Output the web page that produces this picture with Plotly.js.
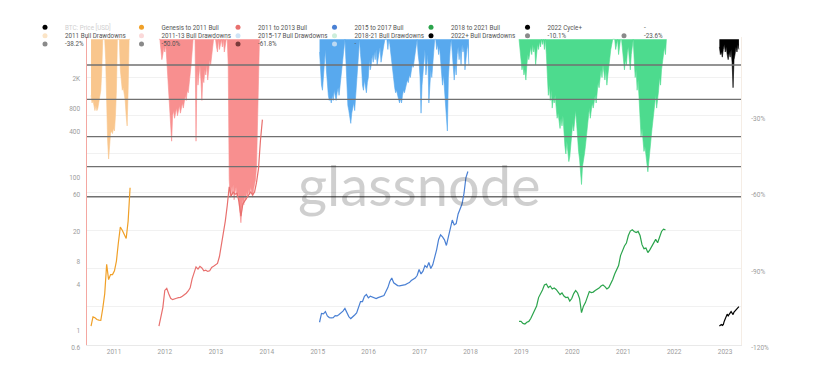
<!DOCTYPE html>
<html><head><meta charset="utf-8">
<script src="https://cdn.plot.ly/plotly-3.0.1.min.js"></script>
<style>html,body{margin:0;padding:0;background:#fff;}#chart{width:832px;height:386px;}</style>
</head><body><div id="chart"></div>
<script>
// ---------- data (prices are normalised to each cycle low; drawdowns in %) ----------
const xRange = ['2010-06-21', '2023-04-25'];
const lineSpan = ['2010-01-01', '2024-01-01'];

// Genesis to 2011 Bull (14-day steps)
const genesisStart = '2010-07-20';
const genesisPrice = [1.06,1.40,1.36,1.29,1.27,1.26,1.8,2.8,6.8,4.3,5.0,5.0,5.6,7.5,13.0,20.8,19.0,16.5,14.8,25,68];
// 2011 to 2013 Bull (14-day steps)
const c2013Start = '2011-11-19';
const c2013Price = [1.06,1.36,1.85,3.1,3.3,2.8,2.45,2.35,2.38,2.45,2.5,2.52,2.6,2.7,2.85,3.05,3.35,4.4,5.2,6.3,5.9,6.4,6.1,5.6,5.7,5.5,5.6,6.2,6.4,6.7,7.0,8.6,12,17.5,25,40,70,53,60,56,58,45,29,42,46,50,55,60,55,60,80,120,280,530];
// 2015 to 2017 Bull (14-day steps)
const c2017Start = '2015-01-14';
const c2017Price = [1.19,1.55,1.53,1.64,1.44,1.37,1.36,1.37,1.45,1.44,1.50,1.57,1.66,1.80,1.55,1.41,1.33,1.39,1.48,1.57,1.84,2.22,2.22,2.60,2.74,2.48,2.60,2.54,2.50,2.43,2.50,2.56,2.62,2.66,3.00,3.38,4.05,4.50,3.90,3.70,3.59,3.55,3.59,3.65,3.70,3.82,3.93,4.18,4.31,4.50,4.86,5.82,5.09,5.53,6.56,6.18,7.2,6.0,6.7,8.2,10.6,14.4,16.5,15.5,14.2,12.0,15.7,20,25.8,22.3,23.2,31,36,41.8,57.3,92.7,111];
// 2018 to 2021 Bull (14-day steps)
const c2021Start = '2018-12-15';
const c2021Price = [1.22,1.22,1.15,1.13,1.19,1.22,1.33,1.50,1.69,1.94,2.50,2.78,3.14,3.65,3.76,3.38,3.54,3.24,3.33,3.19,2.95,2.74,2.87,2.62,2.50,2.53,2.25,2.43,2.82,3.09,2.87,2.43,1.59,1.93,2.15,2.58,3.00,2.91,2.95,3.09,3.19,3.33,3.54,3.65,3.48,3.24,3.38,3.76,4.31,5.09,5.90,6.56,8.86,10.5,11.8,12.9,16.2,18.5,19.2,18.3,17.7,18.3,16.2,12.3,10.9,11.1,9.7,10.5,11.8,13.3,14.4,13.0,15.1,18.3,19.6,19.2];
// 2022 Cycle+ (7-day steps)
const c2022Start = '2022-11-21';
const c2022Price = [1.06,1.09,1.11,1.08,1.11,1.23,1.33,1.43,1.52,1.44,1.50,1.58,1.64,1.57,1.50,1.62,1.67,1.75,1.80,1.85,1.91];

// Drawdowns (7-day steps, %)
const genesisDD = [-22,-25,-24,-27,-28,-26,-28,-27,-25,-23,-20,-12,0,0,0,-8,-31,-40,-47,-42,-37,-36,-37,-35,-36,-30,-20,0,0,0,-12,-18,-20,-19,-22,-24,-30,-34,-20,0,0];
const c2013DD = [0,0,-4,-8,-6,-3,-5,-2,-8,-15,-20,-26,-32,-40,-30,-28,-31,-29,-27,-30,-28,-26,-29,-27,-25,-27,-24,-22,-24,-20,-21,-18,-14,-10,-5,0,0,0,-40,-12,-18,-14,-10,-16,-24,-15,-17,-12,-14,-10,-16,-12,-8,-10,-6,-4,0,0,0,-3,-5,0,-4,-2,0,-3,0,-5,-2,0,0,-10,-55,-62,-58,-61,-57,-63,-60,-58,-62,-60,-64,-68,-72,-66,-63,-65,-61,-63,-60,-62,-59,-61,-58,-60,-62,-59,-57,-55,-50,-35,-15,0,0,0];
const c2017DD = [-5,-12,-18,-20,-14,-10,-4,-12,-20,-22,-24,-23,-25,-22,-24,-20,-22,-24,-21,-19,-22,-18,-16,-10,-6,-3,0,-8,-20,-26,-28,-30,-33,-29,-27,-25,-28,-22,-18,-12,-3,0,-6,-10,-18,-20,-16,-19,-21,-17,-15,-8,-12,-10,-6,-9,-5,-8,-4,-10,-7,-5,-3,-9,-6,-4,-2,0,0,0,-4,0,-2,-6,-10,-14,-17,-19,-21,-20,-22,-24,-25,-23,-25,-22,-20,-21,-19,-18,-16,-17,-14,-15,-12,-10,-11,-8,-5,-3,0,-6,-9,-15,-29,-18,-14,-8,-4,-14,-10,-6,-25,-18,-12,-15,-9,-5,0,0,-4,-2,-6,-3,-8,-12,-18,-14,-20,-24,-30,-36,-15,-8,-3,0,-5,-12,-16,-10,-14,-6,-3,-8,-4,-10,-2,-5,-3,-12,-6,-4,-2,-10];
const c2021DD = [0,-4,-8,-12,-10,-14,-12,-16,-10,-6,-8,-5,-3,-6,-2,-5,-3,-10,-6,-2,-4,-1,-3,0,-2,0,-4,0,-6,-15,-22,-18,-24,-20,-27,-23,-25,-22,-28,-31,-29,-33,-35,-31,-34,-30,-38,-42,-45,-40,-44,-48,-46,-42,-37,-33,-36,-30,-28,-33,-40,-44,-47,-52,-57,-50,-48,-45,-42,-38,-34,-30,-27,-31,-28,-25,-27,-24,-22,-25,-20,-17,-19,-14,-12,-15,-10,-13,-16,-12,-18,-14,-10,-7,-4,-2,0,0,0,-4,-2,0,-6,-3,0,0,-5,-9,-12,-8,-10,-5,-3,-8,-12,-6,-3,0,-8,-15,-12,-20,-16,-25,-32,-38,-35,-40,-44,-42,-46,-50,-52,-48,-45,-40,-36,-33,-30,-25,-22,-27,-24,-20,-15,-18,-12,-8,-5,-3,-6,0];
const c2022DD = [-3,-6,-5,-7,-4,-2,-5,-3,-6,-8,-5,-7,-4,-9,-19,-8,-6,-3,-5,-2,-4];

// Fibonacci drawdown levels
const levels = [-10.1, -23.6, -38.2, -50.0, -61.8];
const levelNames = ['-10.1%', '-23.6%', '-38.2%', '-50.0%', '-61.8%'];

// Axis ticks
const priceTicks = [0.6, 1, 4, 8, 20, 60, 100, 400, 800, 2000];
const priceTickText = ['0.6', '1', '4', '8', '20', '60', '100', '400', '800', '2K'];
const ddTicks = [-15, -30, -45, -60, -75, -90, -105, -120];
const ddTickText = ['', '-30%', '', '-60%', '', '-90%', '', '-120%'];

// ---------- build traces ----------
const DAY = 86400000;
const FONT = 'Roboto, "Open Sans", sans-serif';

function ddTrace(start, vals, fill) {
  return {type: 'scatter', mode: 'lines', x0: start, dx: 7 * DAY, y: vals, yaxis: 'y',
    fill: 'tozeroy', fillcolor: fill, line: {color: fill, width: 0.6}, showlegend: false, hoverinfo: 'skip'};
}
function priceTrace(start, step, vals, color) {
  return {type: 'scatter', mode: 'lines', x0: start, dx: step * DAY, y: vals, yaxis: 'y2',
    line: {color: color, width: 1.2}, showlegend: false, hoverinfo: 'skip'};
}
function proxy(name, color, legend) {
  return {type: 'scatter', mode: 'markers', x: [null], y: [null], yaxis: 'y', name: name,
    marker: {color: color, size: 5}, legend: legend, showlegend: true, hoverinfo: 'skip'};
}

const traces = [
  ddTrace(genesisStart, genesisDD, '#f9c68d'),
  ddTrace(c2013Start, c2013DD, '#f88f8f'),
  ddTrace(c2017Start, c2017DD, '#58a9ee'),
  ddTrace(c2021Start, c2021DD, '#4ddb8e'),
  ddTrace(c2022Start, c2022DD, '#000000')
];
levels.forEach(function (lv) {
  traces.push({type: 'scatter', mode: 'lines', x: lineSpan, y: [lv, lv], yaxis: 'y',
    line: {color: '#707070', width: 1.3}, showlegend: false, hoverinfo: 'skip'});
});
traces.push(
  priceTrace(genesisStart, 14, genesisPrice, '#f0a028'),
  priceTrace(c2013Start, 14, c2013Price, '#e8706e'),
  priceTrace(c2017Start, 14, c2017Price, '#4a80d4'),
  priceTrace(c2021Start, 14, c2021Price, '#2ba44c'),
  priceTrace(c2022Start, 7, c2022Price, '#000000')
);
// legend rows
traces.push(
  proxy('<span style="color:#cfcfcf">BTC: Price [USD]</span>', '#000000', 'legend'),
  proxy('Genesis to 2011 Bull', '#f0a028', 'legend'),
  proxy('2011 to 2013 Bull', '#e8706e', 'legend'),
  proxy('2015 to 2017 Bull', '#4a80d4', 'legend'),
  proxy('2018 to 2021 Bull', '#2ba44c', 'legend'),
  proxy('2022 Cycle+', '#000000', 'legend'),
  proxy('-', 'rgba(0,0,0,0)', 'legend'),
  proxy('2011 Bull Drawdowns', '#fbe4c6', 'legend2'),
  proxy('2011-13 Bull Drawdowns', '#fbd9d9', 'legend2'),
  proxy('2015-17 Bull Drawdowns', '#cfe4f6', 'legend2'),
  proxy('2018-21 Bull Drawdowns', '#cdeedb', 'legend2'),
  proxy('2022+ Bull Drawdowns', '#000000', 'legend2'),
  proxy(levelNames[0], '#8a8a8a', 'legend2'),
  proxy(levelNames[1], '#8a8a8a', 'legend2'),
  proxy(levelNames[2], '#8a8a8a', 'legend3'),
  proxy(levelNames[3], '#8a8a8a', 'legend3'),
  proxy(levelNames[4], '#7a3a3a', 'legend3'),
  proxy('-', '#bcd9f2', 'legend3')
);

function legendRow(y) {
  return {orientation: 'h', x: -0.0948, xanchor: 'left', y: y, yanchor: 'top',
    entrywidth: 51.5, entrywidthmode: 'pixels', bgcolor: 'rgba(0,0,0,0)', borderwidth: 0,
    font: {family: FONT, size: 6.3, color: '#555555'}, traceorder: 'normal',
    itemclick: false, itemdoubleclick: false};
}
const tickFont = {family: FONT, size: 6.5, color: '#9c9c9c'};

const layout = {
  width: 832, height: 386,
  margin: {l: 87, r: 91, t: 37, b: 41, autoexpand: false},
  paper_bgcolor: '#ffffff', plot_bgcolor: '#ffffff',
  font: {family: FONT},
  showlegend: true,
  legend: legendRow(1.0786),
  legend2: legendRow(1.0513),
  legend3: legendRow(1.0244),
  xaxis: {type: 'date', range: xRange, showgrid: false, zeroline: false,
    showline: true, linecolor: '#e9e9e9', linewidth: 1, ticks: '',
    tickformat: '%Y', dtick: 'M12', tick0: '2011-01-01', tickfont: tickFont},
  yaxis: {range: [-120, 0.9], side: 'right', tickmode: 'array', tickvals: ddTicks, ticktext: ddTickText,
    showgrid: true, gridcolor: '#f1f1f1', gridwidth: 1, zeroline: false,
    showline: true, linecolor: '#f5ede5', ticks: '', ticklabelshift: 3, ticklabelstandoff: 8, tickfont: tickFont},
  yaxis2: {type: 'log', overlaying: 'y', side: 'left', range: [-0.2218, 3.804],
    tickmode: 'array', tickvals: priceTicks, ticktext: priceTickText,
    showgrid: false, zeroline: false, showline: true, linecolor: '#f4a7a1', linewidth: 1.5,
    ticks: '', ticklabelshift: 3, ticklabelstandoff: 4, tickfont: tickFont},
  annotations: [{text: 'glassnode', xref: 'paper', yref: 'paper', x: 0.508, y: 0.522,
    showarrow: false, font: {family: 'Lato, sans-serif', size: 56, color: 'rgba(0,0,0,0.19)'}}]
};

Plotly.newPlot('chart', traces, layout, {displayModeBar: false, staticPlot: true});
</script></body></html>
